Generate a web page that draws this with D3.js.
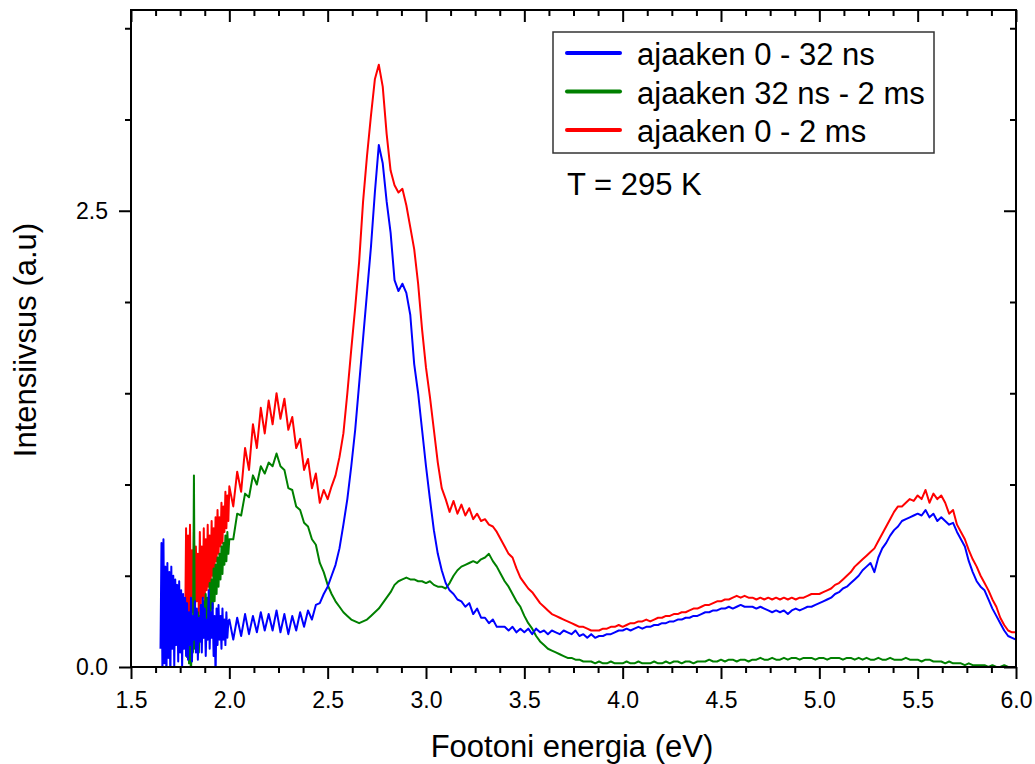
<!DOCTYPE html>
<html>
    <head>
        <meta charset="utf-8">
        <title>Footoni energia</title>
        <script type="text/javascript" src="https://cdn.jsdelivr.net/npm/d3@7/dist/d3.min.js"></script>
        <style type="text/css">
            body { margin: 0; background: #fff; }
            text { font-family: "Liberation Sans", Arial, sans-serif; fill: #000; }
            .tick line { stroke: #000; stroke-width: 2; }
            .axis .domain { display: none; }
        </style>
    </head>
    <body>
        <script type="text/javascript">
            // Series names (legend)
            var seriesNames = ["ajaaken 0 - 32 ns", "ajaaken 32 ns - 2 ms", "ajaaken 0 - 2 ms"];
            var seriesColors = ["#0000ff", "#008000", "#ff0000"];

            // Tick labels
            var xMajorTicks = [1.5, 2.0, 2.5, 3.0, 3.5, 4.0, 4.5, 5.0, 5.5, 6.0];
            var yMajorTicks = [0.0, 2.5];
            var yMinorTicks = [0.5, 1.0, 1.5, 2.0, 3.0, 3.5];

            // Energy grids (eV): noisy low-energy part sampled finer
            var lowStep = 0.005;
            var highStart = 2.0, highStep = 0.02;
            var blueLowStart = 1.65, redLowStart = 1.775, greenLowStart = 1.785;

            // Intensity (a.u.), low-energy part
            var blueLow = [
                0.10,0.68,-0.05,0.70,0.02,0.55,-0.10,0.57,0.05,0.52,
                -0.08,0.55,0.10,0.50,0.00,0.48,0.12,0.45,0.03,0.47,
                0.08,0.42,0.00,0.40,0.10,0.38,
                0.06,0.35,0.04,0.30,0.12,0.38,0.03,0.28,0.15,0.36,
                0.08,0.32,0.04,0.27,0.14,0.34,0.08,0.38,0.16,0.32,
                0.06,0.26,0.15,0.42,0.10,0.30,0.16,0.35,0.06,0.28,
                -0.05,0.32,0.12,0.34,0.15,0.28,0.10,0.32,0.15,0.26,
                0.12,0.30,0.16,0.25
            ];
            var redLow = [
                0.15,0.76,0.20,0.72,0.26,0.78,0.22,0.64,0.30,0.74,
                0.26,0.66,0.36,0.62,0.28,0.74,0.34,0.66,0.38,0.76,
                0.36,0.70,0.42,0.78,0.44,0.72,0.46,0.80,0.50,0.76,
                0.54,0.82,0.58,0.86,0.62,0.82,0.66,0.90,0.68,0.88,
                0.74,0.96,0.76,0.94,0.80
            ];
            var greenLow = [
                0.05,0.20,0.02,0.15,-0.05,0.22,0.08,1.05,0.10,0.25,
                0.10,0.30,0.08,0.28,0.14,0.34,0.16,0.36,0.18,0.40,
                0.20,0.38,0.26,0.46,0.28,0.48,0.32,0.54,0.36,0.56,
                0.40,0.60,0.44,0.62,0.48,0.66,0.51,0.68,0.56,0.72,
                0.58,0.74,0.62
            ];

            // Intensity (a.u.), 2.00 - 6.00 eV every 0.02 eV
            var blueHigh = [
                0.26,0.15,0.27,0.17,0.29,0.18,0.28,0.19,0.30,0.20,
                0.29,0.20,0.31,0.19,0.29,0.18,0.28,0.20,0.30,0.22,
                0.31,0.26,0.34,0.35,0.40,0.44,0.50,0.56,0.65,0.78,
                0.92,1.10,1.30,1.55,1.80,2.05,2.30,2.60,2.86,2.76,
                2.55,2.38,2.12,2.06,2.10,2.05,1.93,1.66,1.50,1.30,
                1.10,0.92,0.75,0.62,0.53,0.46,0.42,0.40,0.37,0.36,
                0.33,0.35,0.29,0.32,0.27,0.27,0.24,0.26,0.22,0.22,
                0.22,0.20,0.22,0.19,0.21,0.19,0.21,0.18,0.21,0.19,
                0.20,0.18,0.20,0.19,0.18,0.20,0.19,0.18,0.20,0.17,
                0.18,0.16,0.18,0.16,0.17,0.17,0.18,0.18,0.19,0.20,
                0.20,0.21,0.20,0.21,0.22,0.21,0.22,0.22,0.23,0.23,
                0.24,0.24,0.25,0.25,0.26,0.26,0.27,0.27,0.28,0.28,
                0.29,0.30,0.30,0.31,0.31,0.32,0.32,0.33,0.32,0.33,
                0.34,0.33,0.33,0.33,0.32,0.33,0.32,0.31,0.30,0.31,
                0.30,0.31,0.29,0.31,0.32,0.31,0.32,0.33,0.33,0.34,
                0.35,0.36,0.37,0.38,0.40,0.41,0.43,0.44,0.46,0.48,
                0.50,0.53,0.55,0.57,0.52,0.60,0.65,0.68,0.72,0.75,
                0.77,0.80,0.81,0.82,0.83,0.84,0.83,0.86,0.82,0.84,
                0.80,0.82,0.80,0.78,0.79,0.74,0.70,0.66,0.58,0.52,
                0.47,0.44,0.42,0.37,0.32,0.28,0.24,0.20,0.17,0.16,
                0.15
            ];
            var redHigh = [
                0.99,0.88,1.07,0.96,1.20,1.08,1.33,1.20,1.42,1.28,
                1.46,1.33,1.50,1.36,1.47,1.30,1.37,1.20,1.25,1.08,
                1.14,0.98,1.06,0.90,0.97,0.92,0.99,1.05,1.15,1.28,
                1.50,1.74,1.97,2.22,2.55,2.80,3.02,3.22,3.30,3.18,
                2.92,2.72,2.64,2.60,2.62,2.53,2.41,2.29,2.10,1.85,
                1.64,1.48,1.30,1.12,0.98,0.92,0.85,0.91,0.84,0.89,
                0.83,0.87,0.81,0.84,0.80,0.81,0.78,0.77,0.74,0.70,
                0.66,0.62,0.60,0.54,0.49,0.46,0.43,0.41,0.38,0.35,
                0.33,0.31,0.29,0.28,0.27,0.26,0.25,0.24,0.23,0.22,
                0.22,0.21,0.20,0.20,0.20,0.21,0.21,0.22,0.22,0.23,
                0.22,0.23,0.24,0.24,0.25,0.25,0.26,0.25,0.26,0.27,
                0.27,0.28,0.28,0.29,0.29,0.30,0.30,0.31,0.32,0.32,
                0.33,0.34,0.34,0.35,0.36,0.36,0.37,0.37,0.38,0.39,
                0.38,0.39,0.38,0.38,0.37,0.38,0.37,0.38,0.37,0.38,
                0.37,0.38,0.37,0.38,0.37,0.38,0.38,0.39,0.40,0.40,
                0.40,0.41,0.42,0.43,0.45,0.46,0.48,0.50,0.52,0.55,
                0.57,0.59,0.61,0.63,0.65,0.69,0.73,0.77,0.81,0.85,
                0.88,0.88,0.90,0.92,0.91,0.94,0.92,0.97,0.90,0.95,
                0.92,0.94,0.90,0.84,0.86,0.78,0.74,0.70,0.64,0.59,
                0.55,0.50,0.46,0.42,0.37,0.33,0.27,0.23,0.20,0.19,
                0.19
            ];
            var greenHigh = [
                0.70,0.70,0.84,0.83,0.95,0.93,1.05,1.00,1.10,1.06,
                1.12,1.10,1.17,1.10,1.08,0.98,0.97,0.88,0.86,0.79,
                0.77,0.70,0.67,0.57,0.52,0.45,0.40,0.36,0.33,0.30,
                0.28,0.26,0.25,0.24,0.25,0.26,0.28,0.30,0.32,0.35,
                0.38,0.41,0.45,0.47,0.48,0.49,0.48,0.48,0.47,0.47,
                0.46,0.47,0.45,0.44,0.44,0.43,0.46,0.50,0.53,0.55,
                0.56,0.57,0.58,0.57,0.59,0.60,0.62,0.58,0.55,0.51,
                0.47,0.44,0.40,0.36,0.33,0.28,0.24,0.21,0.17,0.14,
                0.12,0.10,0.09,0.08,0.07,0.06,0.05,0.05,0.04,0.04,
                0.03,0.03,0.03,0.02,0.03,0.02,0.02,0.03,0.02,0.02,
                0.02,0.03,0.02,0.02,0.03,0.02,0.02,0.02,0.03,0.02,
                0.02,0.03,0.02,0.03,0.03,0.02,0.03,0.03,0.02,0.03,
                0.03,0.03,0.04,0.03,0.03,0.04,0.03,0.04,0.04,0.03,
                0.04,0.04,0.03,0.04,0.04,0.05,0.04,0.04,0.05,0.04,
                0.04,0.05,0.04,0.05,0.05,0.04,0.05,0.05,0.05,0.04,
                0.05,0.05,0.04,0.05,0.05,0.05,0.04,0.05,0.05,0.04,
                0.05,0.04,0.05,0.04,0.04,0.05,0.04,0.04,0.05,0.04,
                0.04,0.04,0.05,0.04,0.04,0.04,0.03,0.04,0.04,0.03,
                0.03,0.03,0.02,0.03,0.02,0.02,0.02,0.01,0.02,0.01,
                0.01,0.01,0.01,0.00,0.01,0.00,0.00,0.01,0.00,0.00,
                0.00
            ];

            // Size and margins
            var w = 1035;
            var h = 764;
            var margin = {top: 10, right: 19, bottom: 97, left: 131};

            // Pair energies with intensities
            function toPoints(lowStart, low, high) {
                var pts = low.map(function(v, i) { return [lowStart + i * lowStep, v]; });
                high.forEach(function(v, i) { pts.push([highStart + i * highStep, v]); });
                return pts;
            }
            var series = [
                {name: seriesNames[2], color: seriesColors[2], values: toPoints(redLowStart, redLow, redHigh)},
                {name: seriesNames[1], color: seriesColors[1], values: toPoints(greenLowStart, greenLow, greenHigh)},
                {name: seriesNames[0], color: seriesColors[0], values: toPoints(blueLowStart, blueLow, blueHigh)}
            ];

            // Scales
            var xScale = d3.scaleLinear()
                            .domain([1.5, 6.0])
                            .range([margin.left, w - margin.right]);
            var yScale = d3.scaleLinear()
                            .domain([0, 3.6])
                            .range([h - margin.bottom, margin.top]);

            var xMinorTicks = d3.range(1.5, 6.0001, 0.125).filter(function(d) {
                return Math.abs(d * 2 - Math.round(d * 2)) > 1e-6;
            });

            // SVG
            var svg = d3.select("body")
                        .append("svg")
                        .attr("width", w)
                        .attr("height", h);

            svg.append("rect").attr("width", w).attr("height", h).attr("fill", "#fff");

            svg.append("clipPath")
                .attr("id", "plot-clip")
                .append("rect")
                .attr("x", margin.left)
                .attr("y", margin.top)
                .attr("width", w - margin.left - margin.right)
                .attr("height", h - margin.top - margin.bottom);

            // Lines
            var line = d3.line()
                        .x(function(d) { return xScale(d[0]); })
                        .y(function(d) { return yScale(d[1]); });

            svg.append("g")
                .attr("clip-path", "url(#plot-clip)")
                .selectAll("path")
                .data(series)
                .enter()
                .append("path")
                .attr("d", function(d) { return line(d.values); })
                .attr("fill", "none")
                .attr("stroke", function(d) { return d.color; })
                .attr("stroke-width", 2)
                .attr("stroke-linejoin", "round");

            // Axes
            var yBottom = h - margin.bottom;
            var xRight = w - margin.right;

            svg.append("g").attr("class", "axis")
                .attr("transform", "translate(0," + yBottom + ")")
                .call(d3.axisBottom(xScale).tickValues(xMajorTicks).tickSize(12).tickPadding(13)
                      .tickFormat(d3.format(".1f")));
            svg.append("g").attr("class", "axis")
                .attr("transform", "translate(0," + yBottom + ")")
                .call(d3.axisBottom(xScale).tickValues(xMinorTicks).tickSize(6).tickFormat(""));
            svg.append("g").attr("class", "axis")
                .attr("transform", "translate(0," + margin.top + ")")
                .call(d3.axisTop(xScale).tickValues(xMajorTicks).tickSize(-12).tickFormat(""));
            svg.append("g").attr("class", "axis")
                .attr("transform", "translate(0," + margin.top + ")")
                .call(d3.axisTop(xScale).tickValues(xMinorTicks).tickSize(-6).tickFormat(""));

            svg.append("g").attr("class", "axis")
                .attr("transform", "translate(" + margin.left + ",0)")
                .call(d3.axisLeft(yScale).tickValues(yMajorTicks).tickSize(12).tickPadding(11)
                      .tickFormat(d3.format(".1f")));
            svg.append("g").attr("class", "axis")
                .attr("transform", "translate(" + margin.left + ",0)")
                .call(d3.axisLeft(yScale).tickValues(yMinorTicks).tickSize(6).tickFormat(""));
            svg.append("g").attr("class", "axis")
                .attr("transform", "translate(" + xRight + ",0)")
                .call(d3.axisRight(yScale).tickValues(yMajorTicks).tickSize(-12).tickFormat(""));
            svg.append("g").attr("class", "axis")
                .attr("transform", "translate(" + xRight + ",0)")
                .call(d3.axisRight(yScale).tickValues(yMinorTicks).tickSize(-6).tickFormat(""));

            svg.selectAll(".axis text").style("font-size", "23px");

            // Frame
            svg.append("rect")
                .attr("x", margin.left)
                .attr("y", margin.top)
                .attr("width", xRight - margin.left)
                .attr("height", yBottom - margin.top)
                .attr("fill", "none")
                .attr("stroke", "#000")
                .attr("stroke-width", 2);

            // Axis titles
            svg.append("text")
                .attr("x", 572)
                .attr("y", 757)
                .attr("text-anchor", "middle")
                .style("font-size", "31px")
                .text("Footoni energia (eV)");

            svg.append("text")
                .attr("transform", "translate(36,340) rotate(-90)")
                .attr("text-anchor", "middle")
                .style("font-size", "31px")
                .text("Intensiivsus (a.u)");

            // Legend
            var legend = svg.append("g");
            legend.append("rect")
                .attr("x", 553).attr("y", 32)
                .attr("width", 381).attr("height", 121)
                .attr("fill", "#fff")
                .attr("stroke", "#333")
                .attr("stroke-width", 1.5);

            var rows = legend.selectAll("g.row")
                .data(seriesNames)
                .enter()
                .append("g")
                .attr("class", "row")
                .attr("transform", function(d, i) { return "translate(0," + (i * 38.5) + ")"; });

            rows.append("line")
                .attr("x1", 567).attr("x2", 620)
                .attr("y1", 53).attr("y2", 53)
                .attr("stroke", function(d, i) { return seriesColors[i]; })
                .attr("stroke-width", 4)
                .attr("stroke-linecap", "round");

            rows.append("text")
                .attr("x", 637)
                .attr("y", 65)
                .style("font-size", "31px")
                .text(function(d) { return d; });

            svg.append("text")
                .attr("x", 567)
                .attr("y", 195)
                .style("font-size", "31px")
                .text("T = 295 K");
        </script>
    </body>
</html>
